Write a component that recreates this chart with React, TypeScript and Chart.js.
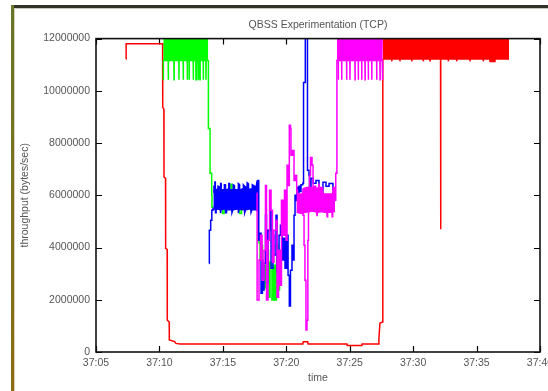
import React, { useEffect, useRef } from 'react';
import { Chart, registerables } from 'chart.js';

Chart.register(...registerables);

type Pt = [number, number | null];

// axis ticks (x in minutes after 37:00)
const xTickMinutes = [5, 10, 15, 20, 25, 30, 35, 40];
const xTickLabels = ['37:05', '37:10', '37:15', '37:20', '37:25', '37:30', '37:35', '37:40'];
const yTickValues = [0, 2000000, 4000000, 6000000, 8000000, 10000000, 12000000];
const yTickLabels = ['0', '2000000', '4000000', '6000000', '8000000', '10000000', '12000000'];

// ---- red flow ----
const redTrace: Pt[] = [
  [7.365, 11.22e6], [7.375, 11.8e6], [10.25, 11.8e6], [10.26, 9.37e6], [10.35, 9.3e6],
  [10.36, 6.7e6], [10.48, 6.65e6], [10.49, 3.97e6], [10.61, 3.93e6], [10.62, 1.22e6],
  [10.77, 1.15e6], [10.78, 0.46e6], [11.2, 0.4e6], [11.3, 0.33e6], [11.62, 0.31e6],
  [21.3, 0.31e6], [21.34, 0.39e6], [21.68, 0.39e6], [21.72, 0.31e6], [24.78, 0.31e6],
  [24.8, 0.25e6], [25.96, 0.25e6], [25.98, 0.31e6], [27.25, 0.31e6], [27.3, 0.5e6],
  [27.38, 1.1e6], [27.58, 1.15e6], [27.6, 11.22e6], [27.62, 11.22e6],
];
const redTopEdge: Pt[] = [
  [27.62, 11.22e6], [28.3, 11.22e6], [28.31, 11.13e6], [28.33, 11.22e6], [28.95, 11.22e6],
  [28.96, 11.13e6], [28.98, 11.22e6], [29.88, 11.22e6], [29.89, 11.13e6], [29.91, 11.22e6],
  [30.79, 11.22e6], [30.8, 11.13e6], [30.82, 11.22e6], [31.32, 11.22e6], [31.33, 11.15e6],
  [31.35, 11.22e6], [32.16, 11.22e6], [32.17, 4.7e6], [32.18, 11.22e6], [32.76, 11.22e6],
  [32.77, 11.13e6], [32.79, 11.22e6], [33.42, 11.22e6], [33.43, 11.13e6], [33.45, 11.22e6],
  [34.47, 11.22e6], [34.48, 11.13e6], [34.5, 11.22e6], [35.52, 11.22e6], [35.53, 11.13e6],
  [35.55, 11.22e6], [36.05, 11.22e6], [36.06, 11.12e6], [36.45, 11.12e6], [36.46, 11.22e6],
  [37.56, 11.22e6],
];

// ---- green flow ----
const greenTopEdge: Pt[] = [
  [10.3, 10.42e6], [10.31, 11.16e6], [10.69, 11.16e6], [10.7, 10.42e6], [10.71, 11.16e6],
  [11.14, 11.16e6], [11.15, 10.42e6], [11.16, 11.16e6], [11.53, 11.16e6], [11.54, 10.42e6],
  [11.55, 11.16e6], [11.87, 11.16e6], [11.88, 10.42e6], [11.89, 11.16e6], [12.19, 11.16e6],
  [12.2, 10.42e6], [12.21, 11.16e6], [12.34, 11.16e6], [12.35, 10.42e6], [12.36, 11.16e6],
  [12.66, 11.16e6], [12.67, 10.42e6], [12.68, 11.16e6], [12.87, 11.16e6], [12.88, 10.42e6],
  [12.95, 10.42e6], [12.96, 11.16e6], [13.09, 11.16e6], [13.1, 10.42e6], [13.11, 11.16e6],
  [13.19, 11.16e6], [13.2, 10.42e6], [13.21, 11.16e6], [13.45, 11.16e6], [13.46, 10.42e6],
  [13.47, 11.16e6], [13.66, 11.16e6], [13.67, 10.42e6], [13.68, 11.16e6], [13.85, 11.16e6],
];
const greenTrace: Pt[] = [
  [13.85, 11.16e6], [13.86, 8.56e6], [13.99, 6.84e6], [14.12, 6.0e6], [14.14, 5.55e6],
  [14.97, 5.3e6], [15.1, 5.5e6], [15.64, 6.42e6], [15.72, 5.6e6], [16.32, 5.3e6],
  [16.47, 5.5e6], [17.73, 5.92e6], [17.77, 4.28e6], [17.85, 4.17e6], [17.93, 3.52e6],
  [18.05, 4.09e6], [18.13, 2.37e6], [18.24, 3.32e6], [18.36, 2.45e6], [18.48, 3.9e6],
  [18.6, 2.1e6], [18.72, 3.44e6], [18.87, 1.99e6], [18.99, 3.32e6], [19.11, 1.99e6],
  [19.23, 4.09e6], [19.35, 2.37e6], [19.47, 3.9e6], [19.58, 3.13e6], [19.6, 3.13e6],
];

// ---- blue flow ----
const blueTrace: Pt[] = [
  [13.93, 3.39e6], [13.935, 4.66e6], [14.04, 5.04e6], [14.13, 5.43e6], [14.22, 5.5e6],
  [14.25, 5.5e6], [14.26, null],
  [17.78, 5.45e6], [17.79, 6.57e6], [17.83, 4.28e6], [17.93, 4.55e6], [18.01, 2.25e6],
  [18.12, 3.52e6], [18.16, 2.37e6], [18.24, 3.4e6], [18.36, 5.24e6], [18.44, 2.64e6],
  [18.56, 4.66e6], [18.72, 5.37e6], [18.8, 3.21e6], [18.95, 4.47e6], [19.03, 3.71e6],
  [19.19, 5.24e6], [19.27, 3.06e6], [19.43, 4.47e6], [19.54, 4.85e6], [19.66, 3.52e6],
  [19.78, 4.36e6], [19.9, 3.21e6], [20.02, 4.47e6], [20.14, 2.94e6], [20.24, 1.76e6],
  [20.33, 3.13e6], [20.45, 4.09e6], [20.53, 3.52e6], [20.61, 5.24e6], [20.69, 6.0e6],
  [20.77, 5.8e6], [20.85, 6.3e6], [20.92, 6.1e6], [21.0, 6.35e6], [21.08, 6.15e6],
  [21.16, 6.4e6], [21.3, 6.46e6], [21.36, 10.32e6], [21.5, 12.3e6], [21.67, 6.96e6],
  [21.79, 6.76e6], [21.83, 6.19e6], [21.95, 6.65e6], [22.11, 6.46e6], [22.34, 6.57e6],
  [22.58, 6.0e6], [22.89, 6.5e6], [23.13, 6.35e6], [23.37, 6.45e6], [23.68, 6.2e6],
  [23.84, 6.0e6],
];
const blueBandTop: Pt[] = [
  [14.25, 6.1e6], [14.3, 6.3e6], [14.36, 6.25e6], [14.37, 6.51e6], [14.4, 6.51e6],
  [14.41, 6.22e6], [14.6, 6.22e6], [14.62, 6.35e6], [14.8, 6.3e6], [14.82, 6.45e6],
  [14.86, 6.45e6], [14.87, 6.2e6], [15.1, 6.22e6], [15.12, 6.4e6], [15.2, 6.4e6],
  [15.21, 6.18e6], [15.45, 6.25e6], [15.47, 6.45e6], [15.52, 6.45e6], [15.53, 6.22e6],
  [15.8, 6.2e6], [15.82, 6.4e6], [15.9, 6.38e6], [15.92, 6.2e6], [16.2, 6.22e6],
  [16.22, 6.45e6], [16.3, 6.42e6], [16.32, 6.2e6], [16.6, 6.25e6], [16.62, 6.4e6],
  [16.7, 6.35e6], [16.9, 6.28e6], [16.92, 6.48e6], [17.0, 6.45e6], [17.02, 6.22e6],
  [17.3, 6.25e6], [17.32, 6.4e6], [17.5, 6.35e6], [17.6, 6.25e6], [17.7, 6.55e6],
  [17.79, 6.57e6],
];
const blueBandBottom: Pt[] = [
  [14.25, 5.45e6], [14.4, 5.5e6], [14.42, 5.33e6], [14.46, 5.33e6], [14.47, 5.48e6],
  [14.8, 5.45e6], [14.82, 5.32e6], [14.86, 5.45e6], [15.2, 5.48e6], [15.22, 5.33e6],
  [15.28, 5.33e6], [15.29, 5.46e6], [15.7, 5.45e6], [15.72, 5.34e6], [15.8, 5.45e6],
  [16.2, 5.48e6], [16.22, 5.32e6], [16.25, 5.46e6], [16.7, 5.45e6], [16.72, 5.33e6],
  [16.8, 5.45e6], [17.2, 5.48e6], [17.22, 5.35e6], [17.3, 5.46e6], [17.6, 5.45e6],
  [17.79, 5.4e6],
];

// ---- magenta flow ----
const magentaTrace: Pt[] = [
  [17.66, 6.08e6], [17.7, 1.99e6], [17.85, 3.52e6], [17.97, 4.47e6], [18.09, 2.75e6],
  [18.24, 3.9e6], [18.36, 6.38e6], [18.44, 1.99e6], [18.56, 4.28e6], [18.68, 6.19e6],
  [18.8, 5.43e6], [18.91, 3.44e6], [19.03, 4.66e6], [19.19, 5.04e6], [19.27, 2.1e6],
  [19.39, 3.9e6], [19.51, 2.56e6], [19.62, 5.81e6], [19.74, 4.47e6], [19.86, 6.19e6],
  [19.98, 4.28e6], [20.06, 7.15e6], [20.17, 6.38e6], [20.24, 8.68e6], [20.33, 8.56e6],
  [20.37, 7.53e6], [20.49, 7.72e6], [20.61, 6.57e6], [20.73, 6.76e6], [20.82, 6.19e6],
  [20.88, 5.4e6], [20.92, 6.0e6], [21.0, 5.4e6], [21.04, 6.0e6], [21.12, 5.4e6],
  [21.16, 6.0e6], [21.24, 5.81e6], [21.32, 5.24e6], [21.4, 4.09e6], [21.47, 2.75e6],
  [21.55, 0.84e6], [21.63, 1.22e6], [21.7, 4.28e6], [21.75, 6.19e6], [21.83, 6.76e6],
  [21.91, 7.45e6], [22.03, 7.15e6], [22.11, 6.27e6], [22.5, 5.8e6], [23.84, 5.81e6],
  [23.9, 6.84e6], [23.99, 11.16e6], [24.0, 11.16e6],
];
const magentaBandTop: Pt[] = [
  [20.82, 6.2e6], [20.9, 6.05e6], [21.3, 6.05e6], [21.32, 6.25e6], [21.6, 6.3e6],
  [22.1, 6.3e6], [22.3, 6.35e6], [22.32, 6.2e6], [22.55, 6.3e6], [22.57, 6.45e6],
  [22.62, 6.3e6], [22.85, 6.3e6], [22.9, 6.05e6], [23.65, 6.05e6], [23.7, 6.3e6],
  [23.84, 6.3e6],
];
const magentaBandBottom: Pt[] = [
  [20.82, 5.35e6], [21.2, 5.3e6], [21.5, 5.35e6], [22.11, 5.4e6], [22.4, 5.35e6],
  [22.42, 5.2e6], [22.47, 5.35e6], [22.8, 5.38e6], [23.0, 5.35e6], [23.2, 5.36e6],
  [23.22, 5.18e6], [23.26, 5.36e6], [23.6, 5.35e6], [23.62, 5.18e6], [23.66, 5.35e6],
  [23.84, 5.4e6],
];
const magentaTopEdge: Pt[] = [
  [23.99, 11.16e6], [24.09, 11.16e6], [24.1, 10.42e6], [24.11, 11.16e6], [24.36, 11.16e6],
  [24.37, 10.42e6], [24.38, 11.16e6], [24.75, 11.16e6], [24.76, 10.42e6], [24.77, 11.16e6],
  [25.01, 11.16e6], [25.02, 10.42e6], [25.03, 11.16e6], [25.41, 11.16e6], [25.42, 10.42e6],
  [25.43, 11.16e6], [25.67, 11.16e6], [25.68, 10.42e6], [25.69, 11.16e6], [25.94, 11.16e6],
  [25.95, 10.42e6], [25.96, 11.16e6], [26.2, 11.16e6], [26.21, 10.42e6], [26.22, 11.16e6],
  [26.46, 11.16e6], [26.47, 10.42e6], [26.48, 11.16e6], [26.73, 11.16e6], [26.74, 10.42e6],
  [26.75, 11.16e6], [27.12, 11.16e6], [27.13, 10.42e6], [27.14, 11.16e6], [27.38, 11.16e6],
  [27.39, 10.42e6], [27.4, 11.16e6], [27.56, 11.16e6], [27.57, 10.42e6], [27.58, 11.16e6],
  [27.62, 11.16e6],
];

const RED = '#ff0000';
const GREEN = '#00ff00';
const BLUE = '#0000ff';
const MAGENTA = '#ff00ff';
const TEXT = '#555555';
const FONT = { family: "'Liberation Sans', Arial, sans-serif", size: 10.5, weight: 'normal' as const };

const toXY = (pts: Pt[]) => pts.map(([x, y]) => ({ x, y }));

const gnuplotFrame = {
  id: 'gnuplotFrame',
  beforeDatasetsDraw(chart: any) {
    const { ctx, chartArea: a, scales } = chart;
    ctx.save();
    ctx.strokeStyle = '#000';
    ctx.lineWidth = 1.2;
    ctx.beginPath();
    for (const t of scales.x.ticks) {
      const px = Math.round(scales.x.getPixelForValue(t.value)) + 0.5;
      ctx.moveTo(px, a.bottom);
      ctx.lineTo(px, a.bottom - 6);
      ctx.moveTo(px, a.top);
      ctx.lineTo(px, a.top + 6);
    }
    for (const t of scales.y.ticks) {
      const py = Math.round(scales.y.getPixelForValue(t.value)) + 0.5;
      ctx.moveTo(a.left, py);
      ctx.lineTo(a.left + 6, py);
      ctx.moveTo(a.right, py);
      ctx.lineTo(a.right - 6, py);
    }
    ctx.stroke();
    ctx.restore();
  },
  afterDatasetsDraw(chart: any) {
    const { ctx, chartArea: a } = chart;
    ctx.save();
    ctx.strokeStyle = '#111';
    ctx.lineWidth = 1.6;
    ctx.strokeRect(a.left, a.top, a.right - a.left, a.bottom - a.top);
    ctx.restore();
  },
};

export default function App() {
  const ref = useRef<HTMLCanvasElement | null>(null);

  useEffect(() => {
    if (!ref.current) return;
    const line = (data: Pt[], color: string, order: number, extra: any = {}) => ({
      data: toXY(data),
      borderColor: color,
      backgroundColor: color,
      borderWidth: 1.5,
      pointRadius: 0,
      tension: 0,
      fill: false,
      clip: 0,
      order,
      ...extra,
    });
    const chart = new Chart(ref.current, {
      type: 'line',
      data: {
        datasets: [
          line(magentaTrace, MAGENTA, 1, { stepped: true }),
          line(magentaBandTop, MAGENTA, 1),
          line(magentaBandBottom, MAGENTA, 1, { fill: '-1' }),
          line(magentaTopEdge, MAGENTA, 1, { fill: 'end' }),
          line(blueTrace, BLUE, 2, { stepped: true }),
          line(blueBandTop, BLUE, 2),
          line(blueBandBottom, BLUE, 2, { fill: '-1' }),
          line(greenTrace, GREEN, 3, { stepped: true }),
          line(greenTopEdge, GREEN, 3, { fill: 'end' }),
          line(redTrace, RED, 4),
          line(redTopEdge, RED, 4, { fill: 'end' }),
        ] as any,
      },
      options: {
        animation: false,
        responsive: false,
        devicePixelRatio: 1,
        events: [],
        layout: { padding: { left: 0, top: 10, right: 8, bottom: 0 } },
        plugins: {
          legend: { display: false },
          tooltip: { enabled: false },
          title: {
            display: true,
            text: 'QBSS Experimentation (TCP)',
            fullSize: false,
            color: TEXT,
            font: FONT,
            padding: { top: 9, bottom: 7 },
          },
        },
        scales: {
          x: {
            type: 'linear',
            min: 5,
            max: 40,
            afterBuildTicks: (s: any) => {
              s.ticks = xTickMinutes.map((value) => ({ value }));
            },
            afterFit: (s: any) => {
              s.height = 39;
              s.paddingLeft = 0;
              s.paddingRight = 0;
            },
            ticks: {
              callback: (_v: any, i: number) => xTickLabels[i],
              color: TEXT,
              font: FONT,
              padding: 5,
              maxRotation: 0,
              autoSkip: false,
            },
            grid: { display: false, drawTicks: false },
            border: { display: false },
            title: { display: true, text: 'time', color: TEXT, font: FONT, padding: { top: 0, bottom: 7 } },
          },
          y: {
            type: 'linear',
            min: 0,
            max: 12000000,
            afterBuildTicks: (s: any) => {
              s.ticks = yTickValues.map((value) => ({ value }));
            },
            afterFit: (s: any) => {
              s.width = 96;
            },
            ticks: {
              callback: (_v: any, i: number) => yTickLabels[i],
              color: TEXT,
              font: FONT,
              padding: 6,
              autoSkip: false,
            },
            grid: { display: false, drawTicks: false },
            border: { display: false },
            title: {
              display: true,
              text: 'throughput (bytes/sec)',
              color: TEXT,
              font: FONT,
              padding: { top: 19, bottom: 0 },
            },
          },
        },
      } as any,
      plugins: [gnuplotFrame],
    });
    return () => chart.destroy();
  }, []);

  return (
    <div style={{ position: 'absolute', left: 0, top: 0, width: 548, height: 391, overflow: 'hidden', background: '#fff' }}>
      <div style={{ position: 'absolute', left: 11, top: 5, right: 0, height: 3, background: '#2f3328' }} />
      <div style={{ position: 'absolute', left: 13, top: 8, right: 0, height: 1, background: '#c9c9c2' }} />
      <div style={{ position: 'absolute', left: 11, top: 5, width: 2.5, bottom: 0, background: 'linear-gradient(#66762a, #8c6c14)' }} />
      <div style={{ position: 'absolute', left: 13.5, top: 8, width: 1, bottom: 0, background: '#d9d2b8' }} />
      <canvas ref={ref} width={548} height={391} style={{ position: 'absolute', left: 0, top: 0, width: 548, height: 391 }} />
    </div>
  );
}
